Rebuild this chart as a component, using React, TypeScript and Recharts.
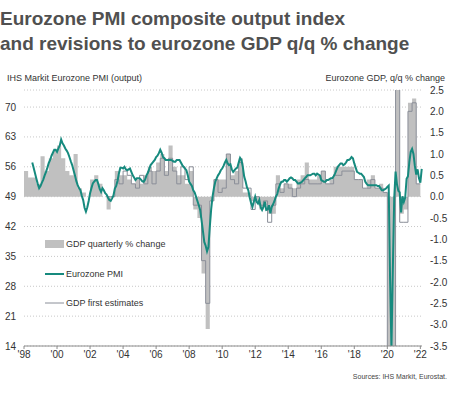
import { ComposedChart, Area, Line, XAxis, YAxis, CartesianGrid, Legend } from 'recharts';

// x axis: every second year
const yearTicks = [1998, 2000, 2002, 2004, 2006, 2008, 2010, 2012, 2014, 2016, 2018, 2020, 2022];
const pmiTicks = [14, 21, 28, 35, 42, 49, 56, 63, 70];
const gdpTicks = [-3.5, -3, -2.5, -2, -1.5, -1, -0.5, 0, 0.5, 1, 1.5, 2, 2.5];

// IHS Markit Eurozone composite PMI, monthly from Jul 1998 to Feb 2022
const pmiComposite = [
  57.0, 55.8, 54.5, 53.2, 52.0, 51.0,
  51.5, 52.3, 53.0, 54.0, 54.8, 55.8, 56.9, 57.6, 58.6, 59.3, 60.0, 60.0,
  59.5, 60.3, 61.0, 62.4, 61.5, 61.0, 60.3, 59.8, 59.2, 58.3, 57.3, 56.4,
  55.2, 54.0, 52.7, 51.7, 51.0, 50.5, 49.2, 48.2, 46.4, 45.5, 46.5, 48.0,
  49.8, 51.0, 52.1, 52.5, 52.9, 52.9, 52.0, 50.8, 50.1, 51.0, 50.5, 49.8,
  49.5, 48.8, 48.2, 48.0, 48.6, 49.3, 50.9, 51.5, 52.8, 54.5, 55.8, 55.8,
  55.6, 56.0, 55.4, 55.2, 55.4, 55.6, 54.8, 54.0, 53.5, 52.9, 53.3, 53.3,
  53.3, 53.0, 52.6, 52.5, 53.0, 54.0, 54.6, 55.5, 56.4, 56.8, 57.2, 57.6,
  58.3, 58.6, 59.2, 60.0, 59.3, 58.3, 58.0, 57.6, 57.6, 57.6, 57.6, 57.6,
  57.4, 57.2, 57.2, 57.6, 57.6, 57.6, 57.0, 56.4, 56.0, 55.6, 55.2, 54.0,
  52.5, 52.0, 51.5, 50.5, 50.0, 49.0, 48.0, 47.0, 45.9, 43.5, 41.0, 38.4,
  37.5, 36.2, 37.2, 41.9, 46.0, 49.0, 51.0, 52.5, 53.3, 54.0, 54.5, 55.2,
  55.6, 56.2, 57.0, 57.6, 56.8, 56.4, 56.6, 55.4, 54.8, 55.2, 55.6, 55.8,
  57.0, 58.1, 57.6, 56.0, 53.7, 52.6, 51.2, 50.5, 48.8, 47.5, 46.6, 47.8,
  49.0, 47.8, 47.4, 48.2, 46.5, 45.9, 46.6, 47.8, 45.9, 46.0, 47.0, 45.1,
  46.6, 47.2, 48.0, 49.0, 49.6, 50.9, 51.8, 52.5, 52.5, 52.9, 52.9, 52.5,
  52.9, 53.3, 53.5, 53.3, 52.9, 52.9, 52.5, 52.1, 52.1, 52.3, 52.5, 52.9,
  53.3, 53.6, 54.0, 54.0, 54.0, 54.2, 54.4, 54.4, 54.0, 54.4, 54.2, 54.0,
  52.9, 52.7, 52.5, 52.5, 52.9, 52.9, 53.1, 53.3, 53.3, 53.8, 54.4, 55.2,
  56.0, 56.4, 56.8, 56.8, 56.4, 56.6, 57.0, 57.6, 57.6, 57.8, 58.3, 58.0,
  56.8, 55.8, 54.8, 54.6, 54.4, 54.4, 54.0, 53.6, 52.5, 52.0, 51.7, 51.7,
  51.7, 51.7, 51.7, 51.7, 51.7, 51.5, 51.5, 51.0, 50.5, 50.5, 50.7, 50.9,
  51.3, 51.6, 29.7, 13.6, 31.9, 48.5, 54.9, 51.9, 50.4, 50.0, 45.3, 49.1,
  47.8, 48.8, 53.2, 53.8, 57.1, 59.5, 60.2, 59.0, 56.2, 54.2, 55.4, 53.3,
  52.3, 55.5,
];

// eurozone GDP q/q %, latest data, 1998 Q1 to 2021 Q4
const gdpQuarterly = [
  0.6, 0.45, 0.45, 0.3,
  0.95, 0.6, 0.9, 1.1,
  1.2, 0.9, 0.6, 0.5,
  1.0, 0.2, 0.1, 0.0,
  0.4, 0.5, 0.3, 0.0,
  -0.3, 0.0, 0.6, 0.5,
  0.5, 0.4, 0.3, 0.4,
  0.3, 0.5, 0.7, 0.6,
  0.8, 1.0, 0.6, 1.2,
  0.7, 0.5, 0.5, 0.3,
  0.6, -0.3, -0.5, -1.8,
  -3.1, -0.1, 0.4, 0.4,
  0.4, 1.0, 0.5, 0.6,
  0.9, 0.1, 0.1, -0.1,
  -0.1, -0.3, -0.2, -0.4,
  -0.4, 0.5, 0.2, 0.3,
  0.3, 0.2, 0.4, 0.5,
  0.8, 0.4, 0.4, 0.5,
  0.6, 0.3, 0.4, 0.7,
  0.7, 0.7, 0.7, 0.7,
  0.4, 0.4, 0.2, 0.4,
  0.5, 0.2, 0.3, 0.1,
  -3.7, -11.6, 12.6, -0.4,
  -0.3, 2.2, 2.3, 0.3,
];

// first published GDP estimates, 2003 Q1 to 2021 Q4
const gdpFirstEstimates = [
  0.0, 0.0, 0.4, 0.3,
  0.6, 0.5, 0.3, 0.2,
  0.5, 0.3, 0.6, 0.3,
  0.6, 0.9, 0.5, 0.9,
  0.6, 0.3, 0.7, 0.4,
  0.7, -0.2, -0.2, -1.5,
  -2.5, -0.1, 0.4, 0.1,
  0.2, 1.0, 0.4, 0.3,
  0.8, 0.2, 0.2, -0.3,
  0.0, -0.2, -0.1, -0.6,
  -0.2, 0.3, 0.1, 0.3,
  0.2, 0.0, 0.2, 0.3,
  0.4, 0.3, 0.3, 0.3,
  0.6, 0.3, 0.3, 0.5,
  0.5, 0.6, 0.6, 0.6,
  0.4, 0.4, 0.2, 0.2,
  0.4, 0.2, 0.2, 0.1,
  -3.8, -12.1, 12.7, -0.6,
  -0.6, 2.0, 2.2, 0.3,
];

const PMI_OFFSET = 6; // months between Jan 1998 and the first PMI reading
const FIRST_OFFSET = 20; // quarters between 1998 Q1 and 2003 Q1

// one row per month; quarterly values sit on the first month of their quarter
const chartData: any[] = [];
for (let i = 0; i < PMI_OFFSET + pmiComposite.length; i++) {
  const row: any = { t: 1998 + i / 12 };
  if (i >= PMI_OFFSET) row.pmi = pmiComposite[i - PMI_OFFSET];
  if (i % 3 === 0) {
    const q = i / 3;
    // the quarter after the last one repeats it, so the final step gets its width
    const g = Math.min(q, gdpQuarterly.length - 1);
    if (q <= gdpQuarterly.length) row.gdp = gdpQuarterly[g];
    const f = q - FIRST_OFFSET;
    if (f >= 0 && f <= gdpFirstEstimates.length) row.first = gdpFirstEstimates[Math.min(f, gdpFirstEstimates.length - 1)];
  }
  chartData.push(row);
}

const BAR_GREY = '#c0c0c0';
const PMI_TEAL = '#168a7e';
const FIRST_GREY = '#8a8e98';

const renderLegend = () => (
  <div style={{ fontSize: 9, color: '#333', lineHeight: '10px' }}>
    {[
      { label: 'GDP quarterly % change', kind: 'bar' },
      { label: 'Eurozone PMI', kind: 'pmi' },
      { label: 'GDP first estimates', kind: 'first' },
    ].map((item) => (
      <div key={item.label} style={{ display: 'flex', alignItems: 'center', height: 29.7 }}>
        <svg width={19} height={10} style={{ marginRight: 2 }}>
          {item.kind === 'bar' && <rect x={0} y={1} width={19} height={8} fill={BAR_GREY} />}
          {item.kind === 'pmi' && <line x1={0} y1={5} x2={19} y2={5} stroke={PMI_TEAL} strokeWidth={2} />}
          {item.kind === 'first' && <line x1={0} y1={5} x2={19} y2={5} stroke={FIRST_GREY} strokeWidth={1} />}
        </svg>
        <span>{item.label}</span>
      </div>
    ))}
  </div>
);

export default function App() {
  return (
    <div
      style={{
        position: 'absolute',
        left: 0,
        top: 0,
        width: 464,
        height: 393,
        background: '#fff',
        fontFamily: '"Liberation Sans", Arial, sans-serif',
      }}
    >
      <div
        style={{
          position: 'absolute',
          left: 0,
          top: 6,
          fontSize: 19,
          lineHeight: '25px',
          fontWeight: 'bold',
          color: '#505050',
        }}
      >
        Eurozone PMI composite output index
        <br />
        and revisions to eurozone GDP q/q % change
      </div>
      <div style={{ position: 'absolute', left: 7, top: 73, fontSize: 9, color: '#333' }}>
        IHS Markit Eurozone PMI (output)
      </div>
      <div style={{ position: 'absolute', right: 19, top: 73, fontSize: 9, color: '#333' }}>
        Eurozone GDP, q/q % change
      </div>

      <ComposedChart
        width={464}
        height={393}
        data={chartData}
        margin={{ top: 90, right: 0, bottom: 17, left: 0 }}
      >
        <CartesianGrid yAxisId="pmi" vertical={false} stroke="#c8c8c8" strokeDasharray="1 2" />
        <XAxis
          type="number"
          dataKey="t"
          domain={[1998, 2022.1]}
          ticks={yearTicks}
          interval={0}
          tickFormatter={(v: number) => "'" + String(v).slice(2)}
          tick={{ fill: '#333', fontSize: 10 }}
          axisLine={{ stroke: '#8c8c8c' }}
          tickLine={{ stroke: '#8c8c8c' }}
          tickSize={3}
          height={30}
        />
        <YAxis
          yAxisId="pmi"
          orientation="left"
          domain={[14, 74]}
          ticks={pmiTicks}
          allowDataOverflow
          width={24}
          axisLine={false}
          tickLine={false}
          tick={{ fill: '#333', fontSize: 10 }}
        />
        <YAxis
          yAxisId="gdp"
          orientation="right"
          domain={[-3.5, 2.5]}
          ticks={gdpTicks}
          allowDataOverflow
          width={42}
          axisLine={false}
          tickLine={false}
          tickFormatter={(v: number) => v.toFixed(1)}
          tick={{ fill: '#333', fontSize: 10 }}
        />
        <Legend
          layout="vertical"
          align="center"
          verticalAlign="middle"
          content={renderLegend}
          wrapperStyle={{ left: 45, top: 229, width: 160 }}
        />
        <Area
          yAxisId="gdp"
          dataKey="gdp"
          type="stepAfter"
          connectNulls
          fill={BAR_GREY}
          fillOpacity={1}
          stroke="none"
          dot={false}
          activeDot={false}
          isAnimationActive={false}
        />
        <Line
          yAxisId="gdp"
          dataKey="first"
          type="stepAfter"
          connectNulls
          stroke={FIRST_GREY}
          strokeWidth={1}
          dot={false}
          activeDot={false}
          isAnimationActive={false}
        />
        <Line
          yAxisId="pmi"
          dataKey="pmi"
          type="linear"
          stroke={PMI_TEAL}
          strokeWidth={2}
          dot={false}
          activeDot={false}
          isAnimationActive={false}
        />
      </ComposedChart>

      <div style={{ position: 'absolute', right: 17, top: 373, fontSize: 7, color: '#444' }}>
        Sources: IHS Markit, Eurostat.
      </div>
    </div>
  );
}
